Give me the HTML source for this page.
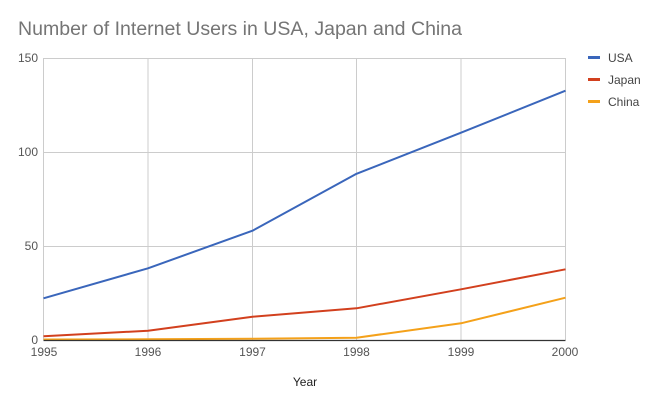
<!DOCTYPE html>
<html><head><meta charset="utf-8"><style>
html,body{margin:0;padding:0;background:#fff;}
svg{display:block;font-family:"Liberation Sans",Arial,sans-serif;}
</style></head><body>
<svg width="658" height="406" viewBox="0 0 658 406" xmlns="http://www.w3.org/2000/svg">
<rect width="658" height="406" fill="#fff"/>
<text x="18" y="35" font-size="19" fill="#757575" textLength="444" lengthAdjust="spacingAndGlyphs">Number of Internet Users in USA, Japan and China</text>
<g stroke="#cccccc" stroke-width="1" fill="none">
<line x1="43.5" y1="58.5" x2="565.5" y2="58.5"/>
<line x1="43.5" y1="152.5" x2="565.5" y2="152.5"/>
<line x1="43.5" y1="246.5" x2="565.5" y2="246.5"/>
<line x1="43.5" y1="58" x2="43.5" y2="340"/>
<line x1="148" y1="58" x2="148" y2="340"/>
<line x1="252.5" y1="58" x2="252.5" y2="340"/>
<line x1="356.5" y1="58" x2="356.5" y2="340"/>
<line x1="461" y1="58" x2="461" y2="340"/>
<line x1="565.5" y1="58" x2="565.5" y2="340"/>
</g>
<g font-size="12" fill="#555" text-anchor="end">
<text x="38" y="62">150</text>
<text x="38" y="156">100</text>
<text x="38" y="250">50</text>
<text x="38" y="344">0</text>
</g>
<g font-size="12" fill="#555" text-anchor="middle">
<text x="44" y="356">1995</text>
<text x="148" y="356">1996</text>
<text x="252.5" y="356">1997</text>
<text x="356.5" y="356">1998</text>
<text x="461" y="356">1999</text>
<text x="565" y="356">2000</text>
</g>
<text x="305" y="386" font-size="12" fill="#222" text-anchor="middle">Year</text>
<g fill="none" stroke-width="2" stroke-linejoin="round">
<polyline stroke="#f4a11a" points="43.5,339.5 148,339.3 252.5,338.8 356.5,337.7 461,323.3 565.5,297.7"/>
<polyline stroke="#d2401e" points="43.5,336.3 148,330.7 252.5,316.7 356.5,308.3 461,289.3 565.5,269.3"/>
<polyline stroke="#3a66bb" points="43.5,298.3 148,268.3 252.5,230.7 356.5,173.8 461,132.7 565.5,90.7"/>
</g>
<line x1="43.5" y1="340.5" x2="565.5" y2="340.5" stroke="#333" stroke-width="1.2"/>
<g font-size="12" fill="#444">
<rect x="588" y="56" width="12" height="3" fill="#3a66bb"/>
<text x="608" y="62">USA</text>
<rect x="588" y="78" width="12" height="3" fill="#d2401e"/>
<text x="608" y="84">Japan</text>
<rect x="588" y="100" width="12" height="3" fill="#f4a11a"/>
<text x="608" y="106">China</text>
</g>
</svg>
</body></html>
